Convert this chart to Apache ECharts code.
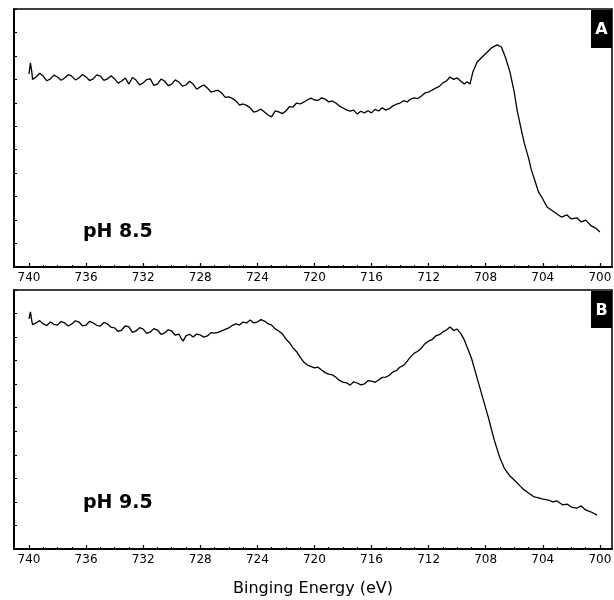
<!DOCTYPE html>
<html>
<head>
<meta charset="utf-8">
<script src="https://cdn.jsdelivr.net/npm/echarts@6/dist/echarts.min.js"></script>
<style>
html,body{margin:0;padding:0;background:#fff;}
#chart{width:614px;height:600px;}
</style>
</head>
<body>
<div id="chart"></div>
<script>
// ---- data ----
var tickLabels = [740, 736, 732, 728, 724, 720, 716, 712, 708, 704, 700];
var minorTicks = [739,738,737,735,734,733,731,730,729,727,726,725,723,722,721,719,718,717,715,714,713,711,710,709,707,706,705,703,702,701];

var energyA = [740.0,739.9,739.8,739.75,739.5,739.25,739.0,738.75,738.5,738.25,738.0,737.75,737.5,737.25,737.0,736.75,736.5,736.25,736.0,735.75,735.5,735.25,735.0,734.75,734.5,734.25,734.0,733.75,733.5,733.25,733.0,732.75,732.5,732.25,732.0,731.75,731.5,731.25,731.0,730.75,730.5,730.25,730.0,729.75,729.5,729.25,729.0,728.75,728.5,728.25,728.0,727.75,727.5,727.25,727.0,726.75,726.5,726.25,726.0,725.75,725.5,725.25,725.0,724.75,724.5,724.25,724.0,723.75,723.5,723.25,723.0,722.75,722.5,722.25,722.0,721.75,721.5,721.25,721.0,720.75,720.5,720.25,720.0,719.75,719.5,719.25,719.0,718.75,718.5,718.25,718.0,717.75,717.5,717.25,717.0,716.75,716.5,716.25,716.0,715.75,715.5,715.25,715.0,714.75,714.5,714.25,714.0,713.75,713.5,713.25,713.0,712.75,712.5,712.25,712.0,711.75,711.5,711.25,711.0,710.75,710.5,710.25,710.0,709.75,709.5,709.3,709.1,708.9,708.6,708.1,707.6,707.2,706.9,706.6,706.3,706.0,705.8,705.5,705.3,705.0,704.8,704.5,704.3,704.0,703.7,703.3,703.0,702.7,702.3,702.0,701.6,701.3,701.0,700.6,700.3,700.0];
var intensityA = [82.3,87.0,83.1,80.0,81.0,82.6,81.4,79.4,80.2,81.8,81.0,79.6,80.6,82.0,81.4,79.8,80.6,82.1,81.0,79.5,80.2,81.9,81.4,79.6,80.2,81.5,80.2,78.4,79.3,80.6,78.0,80.8,79.7,77.6,78.5,79.9,80.2,77.4,78.0,80.1,79.3,77.3,78.0,79.8,78.9,77.1,77.6,79.2,78.0,75.8,76.8,77.6,76.3,74.6,75.0,75.4,74.2,72.3,72.5,71.9,70.8,69.0,69.5,68.9,67.8,66.0,66.5,67.3,66.1,64.8,64.0,66.6,66.1,65.4,66.5,68.4,68.2,69.9,69.5,70.3,71.2,72.0,71.2,71.0,72.1,71.6,70.4,70.8,69.9,68.6,67.8,67.0,66.5,66.9,65.2,66.4,65.7,66.6,65.7,67.2,66.5,67.9,66.9,67.5,68.7,69.4,69.9,70.9,70.4,71.6,72.1,71.8,72.9,74.2,74.6,75.4,76.3,77.0,78.5,79.3,81.0,80.0,80.6,79.3,78.0,79.0,78.0,83.1,87.4,90.4,93.4,94.7,93.8,89.1,83.1,74.6,66.9,58.4,52.9,46.5,41.4,35.8,32.0,29.0,25.6,23.9,22.6,21.3,22.2,20.5,20.9,19.2,20.0,17.5,16.6,14.9];

var energyB = [740.0,739.9,739.8,739.75,739.5,739.25,739.0,738.75,738.5,738.25,738.0,737.75,737.5,737.25,737.0,736.75,736.5,736.25,736.0,735.75,735.5,735.25,735.0,734.75,734.5,734.25,734.0,733.75,733.5,733.25,733.0,732.75,732.5,732.25,732.0,731.75,731.5,731.25,731.0,730.75,730.5,730.25,730.0,729.75,729.5,729.35,729.2,729.0,728.75,728.5,728.25,728.0,727.75,727.5,727.25,727.0,726.75,726.5,726.25,726.0,725.75,725.5,725.25,725.0,724.75,724.5,724.25,724.0,723.75,723.5,723.25,723.0,722.75,722.5,722.25,722.0,721.75,721.5,721.25,721.0,720.75,720.5,720.25,720.0,719.75,719.5,719.25,719.0,718.75,718.5,718.25,718.0,717.75,717.5,717.25,717.0,716.75,716.5,716.25,716.0,715.75,715.5,715.25,715.0,714.75,714.5,714.25,714.0,713.75,713.5,713.25,713.0,712.75,712.5,712.25,712.0,711.75,711.5,711.25,711.0,710.75,710.5,710.25,710.0,709.75,709.5,709.0,708.6,708.2,707.8,707.4,707.0,706.7,706.3,706.0,705.6,705.3,705.0,704.6,704.3,704.0,703.6,703.3,703.0,702.6,702.3,702.0,701.6,701.3,701.0,700.6,700.2];
var intensityB = [97.7,100.7,96.8,95.3,96.0,97.0,95.6,94.9,96.4,95.4,95.1,96.6,96.0,94.7,95.6,96.9,96.4,94.8,95.1,96.7,96.0,95.0,94.7,96.2,95.6,94.2,93.9,92.4,93.0,94.8,94.3,92.0,92.6,94.0,93.4,91.6,92.2,93.6,93.0,91.2,91.7,93.1,92.6,90.8,91.3,89.6,88.3,90.5,91.2,90.0,91.3,90.9,90.0,90.5,91.9,91.7,92.0,92.6,93.3,93.9,95.0,95.6,95.1,96.4,96.0,97.3,96.0,96.4,97.4,96.8,95.7,95.1,93.5,92.6,91.4,89.2,87.6,85.4,83.8,81.5,79.4,78.1,77.6,76.9,77.2,76.0,74.9,74.3,74.0,73.0,71.6,70.9,70.6,69.6,71.0,70.5,69.7,70.1,71.5,71.3,70.8,71.8,72.9,73.0,73.8,75.2,75.8,77.3,78.0,79.8,81.7,83.2,84.0,85.4,87.2,88.3,89.0,90.5,91.0,92.2,93.0,94.3,92.8,93.4,91.6,88.8,81.1,72.6,64.1,55.6,46.3,38.6,34.4,31.0,29.3,26.8,25.1,23.8,22.1,21.7,21.2,20.8,20.0,20.4,18.7,19.1,17.8,17.4,18.3,16.6,15.7,14.4];

var panelLabels = ['A', 'B'];
var phLabels = ['pH 8.5', 'pH 9.5'];
var xTitle = 'Binging Energy (eV)';

function pairs(xs, ys) { return xs.map(function (x, i) { return [x, ys[i]]; }); }

var chart = echarts.init(document.getElementById('chart'));
var FONT = 'DejaVu Sans';
var XMIN = 699.15, XMAX = 741.05;

function mainX(gi, withName) {
  var ax = {
    type: 'value', gridIndex: gi, position: 'bottom', inverse: true,
    min: XMIN, max: XMAX,
    axisLine: { show: true, onZero: false, lineStyle: { color: '#000', width: 2 } },
    axisTick: { show: true, inside: true, length: 4, customValues: tickLabels, lineStyle: { color: '#000', width: 1.2 } },
    axisLabel: { show: true, customValues: tickLabels, margin: 5, color: '#000', fontFamily: FONT, fontSize: 12 },
    splitLine: { show: false }
  };
  if (withName) {
    ax.name = xTitle;
    ax.nameLocation = 'middle';
    ax.nameGap = 32;
    ax.nameTextStyle = { color: '#000', fontFamily: FONT, fontSize: 16, verticalAlign: 'top' };
  }
  return ax;
}
function minorX(gi) {
  return {
    type: 'value', gridIndex: gi, position: 'bottom', inverse: true, offset: 0,
    min: XMIN, max: XMAX,
    axisLine: { show: false },
    axisTick: { show: true, inside: true, length: 2, customValues: minorTicks, lineStyle: { color: '#000', width: 1 } },
    axisLabel: { show: false },
    splitLine: { show: false }
  };
}
function yAx(gi) {
  return {
    type: 'value', gridIndex: gi, min: 0, max: 110, interval: 10,
    axisLine: { show: true, onZero: false, lineStyle: { color: '#000', width: 2 } },
    axisTick: { show: true, inside: true, length: 3, lineStyle: { color: '#000', width: 1 } },
    axisLabel: { show: false },
    splitLine: { show: false }
  };
}

var option = {
  backgroundColor: '#fff',
  animation: false,
  grid: [
    { left: 14, right: 2, top: 9, height: 258, show: true, borderColor: '#000', borderWidth: 1.5, backgroundColor: 'transparent', containLabel: false, outerBoundsMode: 'none' },
    { left: 14, right: 2, top: 290, height: 259, show: true, borderColor: '#000', borderWidth: 1.5, backgroundColor: 'transparent', containLabel: false, outerBoundsMode: 'none' }
  ],
  xAxis: [mainX(0, false), mainX(1, true), minorX(0), minorX(1)],
  yAxis: [yAx(0), yAx(1)],
  series: [
    { type: 'line', xAxisIndex: 0, yAxisIndex: 0, data: pairs(energyA, intensityA), showSymbol: false, lineStyle: { color: '#000', width: 1.3 } },
    { type: 'line', xAxisIndex: 1, yAxisIndex: 1, data: pairs(energyB, intensityB), showSymbol: false, lineStyle: { color: '#000', width: 1.3 } }
  ],
  graphic: [
    { type: 'rect', left: 591, top: 10, shape: { width: 21, height: 38 }, style: { fill: '#000' } },
    { type: 'text', x: 601.5, y: 30, style: { text: panelLabels[0], fill: '#fff', font: 'bold 16px "DejaVu Sans"', align: 'center', verticalAlign: 'middle' } },
    { type: 'rect', left: 591, top: 291, shape: { width: 21, height: 37 }, style: { fill: '#000' } },
    { type: 'text', x: 601.5, y: 311, style: { text: panelLabels[1], fill: '#fff', font: 'bold 16px "DejaVu Sans"', align: 'center', verticalAlign: 'middle' } },
    { type: 'text', x: 83, y: 232, style: { text: phLabels[0], fill: '#000', font: 'bold 19px "DejaVu Sans"', align: 'left', verticalAlign: 'middle' } },
    { type: 'text', x: 83, y: 503, style: { text: phLabels[1], fill: '#000', font: 'bold 19px "DejaVu Sans"', align: 'left', verticalAlign: 'middle' } }
  ]
};
chart.setOption(option);
</script>
</body>
</html>
